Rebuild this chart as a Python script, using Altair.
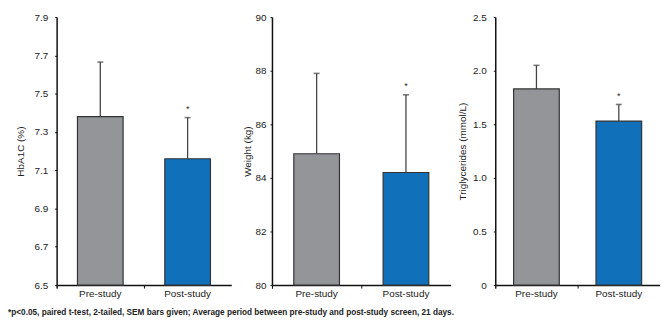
import altair as alt
import pandas as pd

categories = ["Pre-study", "Post-study"]
hba1c_mean = [7.38, 7.16]
hba1c_sem = [0.285, 0.215]
weight_mean = [84.9, 84.2]
weight_sem = [3.0, 2.9]
trig_mean = [1.83, 1.53]
trig_sem = [0.22, 0.155]
significance = ["", "*"]
bar_colors = ["#939598", "#1170BA"]

footnote = ("*p<0.05, paired t-test, 2-tailed, SEM bars given; Average period between "
            "pre-study and post-study screen, 21 days.")

FONT = "Liberation Sans"


def panel(means, sems, title, domain, ticks, width, lab_pad, title_pad, label_expr):
    df = pd.DataFrame({
        "cat": categories,
        "mean": means,
        "upper": [m + s for m, s in zip(means, sems)],
        "base": [domain[0]] * len(means),
        "sig": significance,
    })
    axis_kw = dict(values=ticks, tickCount=len(ticks), title=title, tickSize=2,
                   domainWidth=1.5, domainColor="#111", tickColor="#111", grid=False,
                   labelPadding=lab_pad, titlePadding=title_pad, labelOverlap=False,
                   labelExpr=label_expr)
    yscale = alt.Scale(domain=domain, zero=False, nice=False)
    x = alt.X("cat:N", sort=categories,
              scale=alt.Scale(paddingInner=0, paddingOuter=0),
              axis=alt.Axis(title=None, labelAngle=0, bandPosition=0, tickExtra=True,
                            tickSize=3, domainWidth=1.5, domainColor="#111",
                            tickColor="#111", labelPadding=1))
    base = alt.Chart(df)
    bars = base.mark_bar(size=46, stroke="#333", strokeWidth=1.2).encode(
        x=x,
        y=alt.Y("mean:Q", scale=yscale, axis=alt.Axis(**axis_kw)),
        y2="base:Q",
        color=alt.Color("cat:N", sort=categories,
                        scale=alt.Scale(domain=categories, range=bar_colors), legend=None),
    )
    err = base.mark_rule(color="#444", strokeWidth=1.3).encode(
        x=alt.X("cat:N", sort=categories), y="mean:Q", y2="upper:Q")
    cap = base.mark_tick(color="#444", thickness=1.6, size=6).encode(
        x=alt.X("cat:N", sort=categories), y="upper:Q")
    star = base.mark_text(dy=-9, fontSize=9, color="#333", font=FONT).encode(
        x=alt.X("cat:N", sort=categories), y="upper:Q", text="sig:N")
    return alt.layer(bars, err, cap, star).properties(width=width, height=270)


p1 = panel(hba1c_mean, hba1c_sem, "HbA1C (%)", [6.5, 7.9],
           [6.5, 6.7, 6.9, 7.1, 7.3, 7.5, 7.7, 7.9], 176, 7, 8,
           "format(datum.value, '.1f')")
p2 = panel(weight_mean, weight_sem, "Weight (kg)", [80, 90],
           [80, 82, 84, 86, 88, 90], 180, 4, 3,
           "format(datum.value, 'd')")
p3 = panel(trig_mean, trig_sem, "Triglycerides (mmol/L)", [0, 2.5],
           [0, 0.5, 1.0, 1.5, 2.0, 2.5], 166, 7, 5,
           "datum.value == 0 ? '0' : format(datum.value, '.1f')")

right = alt.hconcat(p2, p3, spacing=7)
chart = alt.hconcat(p1, right, spacing=10).properties(
    title=alt.TitleParams(footnote, orient="bottom", anchor="start", fontSize=8.3,
                          fontWeight="bold", font=FONT, color="#222", offset=9, dx=-8),
    padding={"left": 0, "top": 3, "right": 0, "bottom": 0},
).configure_view(stroke=None).configure_axis(
    labelFont=FONT, titleFont=FONT, labelFontSize=10, titleFontSize=10,
    labelColor="#222", titleColor="#222", titleFontWeight="normal",
)

chart.save("out.html", embed_options={"renderer": "svg", "actions": False})
